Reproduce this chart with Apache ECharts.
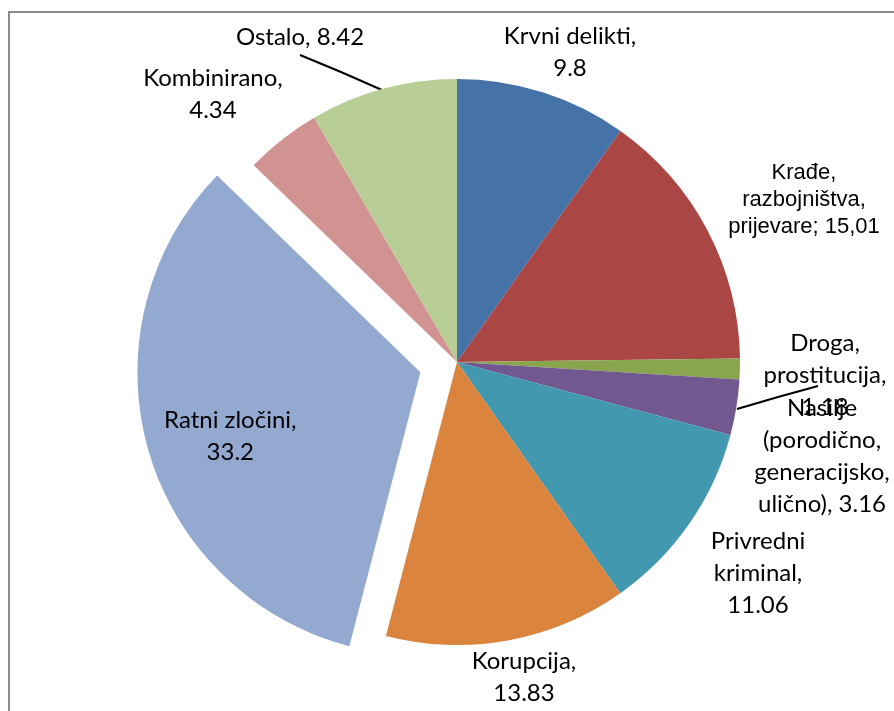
<!DOCTYPE html>
<html>
<head>
<meta charset="utf-8">
<script src="https://cdn.jsdelivr.net/npm/echarts@6/dist/echarts.min.js"></script>
<style>
    html, body { margin: 0; padding: 0; background: #fff; }
    #chart { width: 894px; height: 711px; }
</style>
</head>
<body>
<div id="chart"></div>
<script>
// slices, clockwise from the top
const categories = ["Krvni delikti", "Krađe, razbojništva, prijevare", "Droga, prostitucija", "Nasilje (porodično, generacijsko, ulično)", "Privredni kriminal", "Korupcija", "Ratni zločini", "Kombinirano", "Ostalo"];
const values = [9.8, 15.01, 1.18, 3.16, 11.06, 13.83, 33.2, 4.34, 8.42];
const labelTexts = [
    "Krvni delikti,\n9.8",
    "Krađe,\nrazbojništva,\nprijevare; 15,01",
    "Droga,\nprostitucija,\n1.18",
    "Nasilje\n(porodično,\ngeneracijsko,\nulično), 3.16",
    "Privredni\nkriminal,\n11.06",
    "Korupcija,\n13.83",
    "Ratni zločini,\n33.2",
    "Kombinirano,\n4.34",
    "Ostalo, 8.42"
];
const colors = ["#4572A7", "#AA4643", "#89A54E", "#71588F", "#4198AF", "#DB843D", "#93A9CF", "#D19392", "#B9CD96"];

// where each label sits, and the two leader lines
const labelPos = [
    [570, 52], [804, 200], [825, 375], [822, 456], [758, 573],
    [524, 677], null, [213, 94], [300, 37]
];
const leaderLines = {
    3: [[737, 409], [778, 397], [818, 386]],
    8: [[382, 90], [341, 72], [300, 55]]
};

const chart = echarts.init(document.getElementById("chart"));

chart.setOption({
    animation: false,
    backgroundColor: "#fff",
    graphic: [{
        type: "rect",
        shape: { x: 9, y: 12, width: 1200, height: 1200 },
        style: { fill: "none", stroke: "#8c8c8c", lineWidth: 2 },
        silent: true
    }],
    series: [{
        type: "pie",
        center: [457, 362],
        radius: 283,
        startAngle: 90,
        clockwise: true,
        selectedMode: "single",
        selectedOffset: 38,
        avoidLabelOverlap: false,
        emphasis: { disabled: true },
        label: {
            show: true,
            position: "outside",
            color: "#000",
            fontFamily: "Lato",
            fontSize: 24,
            lineHeight: 32,
            align: "center",
            overflow: "none",
            formatter: p => p.dataIndex === 1
                ? labelTexts[1].split("\n").map(s => "{k|" + s + "}").join("\n")
                : labelTexts[p.dataIndex],
            rich: {
                k: { fontFamily: "Liberation Sans", fontSize: 22, lineHeight: 27, color: "#000" }
            }
        },
        labelLine: {
            show: true,
            lineStyle: { color: "#000", width: 2 }
        },
        labelLayout: p => {
            const pos = labelPos[p.dataIndex];
            if (!pos) return;
            const out = {
                x: pos[0],
                y: pos[1],
                align: "center",
                verticalAlign: "middle",
                hideOverlap: false,
                moveOverlap: null
            };
            if (leaderLines[p.dataIndex]) {
                out.labelLinePoints = leaderLines[p.dataIndex];
            }
            return out;
        },
        data: categories.map((name, i) => ({
            name: name,
            value: values[i],
            selected: i === 6,
            itemStyle: { color: colors[i] },
            label: i === 6 ? { position: "inside", padding: [50, 102, 0, 0] } : {},
            labelLine: { show: !!leaderLines[i] }
        }))
    }]
});
</script>
</body>
</html>
